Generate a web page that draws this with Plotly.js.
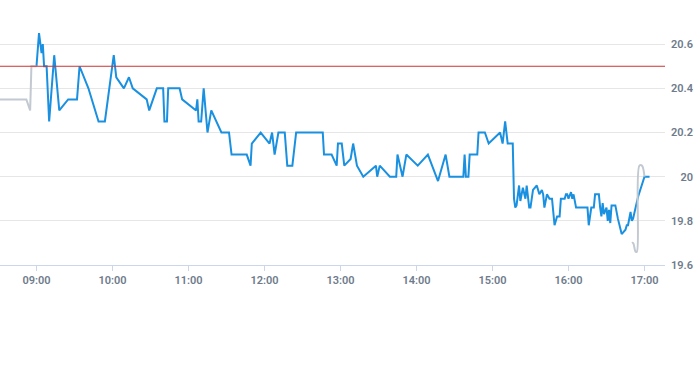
<!DOCTYPE html>
<html>
<head>
<meta charset="utf-8">
<script src="https://cdn.plot.ly/plotly-3.0.1.min.js"></script>
<style>
  html, body { margin: 0; padding: 0; background: #fff; }
  #chart { width: 693px; height: 365px; }
</style>
</head>
<body>
<div id="chart"></div>
<script>
const DAY = "2024-01-02 ";

const priceTimes = ["09:00","09:02","09:04","09:05","09:06","09:08","09:10","09:14","09:18","09:25","09:32","09:34","09:41","09:49","09:54",
  "10:01","10:03","10:09","10:13","10:16","10:27","10:29","10:35","10:40","10:41","10:43","10:44","10:53","10:55",
  "11:06","11:07","11:08","11:10","11:12","11:15","11:18","11:26","11:32","11:34","11:46","11:49","11:50","11:57",
  "12:04","12:06","12:08","12:11","12:16","12:18","12:22","12:25","12:46","12:47","12:53","12:57","12:58",
  "13:01","13:03","13:08","13:10","13:13","13:18","13:28","13:29","13:31","13:39","13:44","13:45","13:49","13:52",
  "14:01","14:09","14:17","14:23","14:26","14:37","14:38","14:39","14:41","14:42","14:48","14:49","14:54","14:57",
  "15:06","15:08","15:10","15:12","15:16","15:17","15:18","15:19","15:21","15:22","15:24","15:26","15:27","15:29","15:30",
  "15:32","15:35","15:37","15:39","15:40","15:41","15:43","15:45","15:47","15:49","15:51","15:53","15:54","15:57","15:58","15:59",
  "16:00","16:02","16:03","16:04","16:06","16:15","16:16","16:18","16:20","16:21","16:24","16:25","16:26","16:27","16:28",
  "16:30","16:31","16:32","16:33","16:34","16:37","16:39","16:42","16:45","16:46","16:47","16:49","16:50","16:51","16:53","16:55",
  "17:00","17:04"];
const priceValues = [20.50,20.65,20.56,20.60,20.50,20.50,20.25,20.55,20.30,20.35,20.35,20.50,20.40,20.25,20.25,
  20.55,20.45,20.40,20.45,20.40,20.35,20.30,20.40,20.40,20.25,20.25,20.40,20.40,20.35,
  20.30,20.35,20.25,20.25,20.40,20.20,20.30,20.20,20.20,20.10,20.10,20.05,20.15,20.20,
  20.15,20.20,20.10,20.20,20.20,20.05,20.05,20.20,20.20,20.10,20.10,20.05,20.15,
  20.15,20.05,20.08,20.15,20.05,20.00,20.05,20.00,20.05,20.00,20.00,20.10,20.00,20.10,
  20.05,20.10,19.98,20.10,20.00,20.00,20.10,20.00,20.00,20.10,20.10,20.20,20.20,20.15,
  20.20,20.15,20.25,20.15,20.15,19.90,19.86,19.87,19.96,19.89,19.95,19.90,19.96,19.86,19.86,
  19.94,19.96,19.92,19.94,19.92,19.86,19.92,19.90,19.90,19.78,19.82,19.82,19.90,19.90,19.92,19.92,
  19.90,19.93,19.90,19.92,19.86,19.86,19.78,19.86,19.86,19.92,19.92,19.86,19.82,19.88,19.83,
  19.86,19.80,19.85,19.79,19.87,19.87,19.81,19.74,19.76,19.78,19.78,19.84,19.80,19.81,19.86,19.91,
  20.00,20.00];

const preTimes = ["08:31","08:52","08:55","08:56","09:00"];
const preValues = [20.35,20.35,20.30,20.50,20.50];

const postTimes = ["16:50","16:51","16:53","16:54","16:56","16:58","17:00"];
const postValues = [19.70,19.70,19.66,19.66,20.05,20.05,20.00];

const refLevel = 20.5;
const yTicks = [19.6, 19.8, 20, 20.2, 20.4, 20.6];
const yTickText = ["19.6", "19.8", "20", "20.2", "20.4", "20.6"];

const toDate = arr => arr.map(t => DAY + t);

const traces = [
  {x: toDate(priceTimes), y: priceValues, type: "scatter", mode: "lines",
   line: {color: "#1a90e0", width: 2}, hoverinfo: "skip"},
  {x: toDate(preTimes), y: preValues, type: "scatter", mode: "lines",
   line: {color: "#c2c9d1", width: 2}, hoverinfo: "skip"},
  {x: toDate(postTimes), y: postValues, type: "scatter", mode: "lines",
   line: {color: "#c2c9d1", width: 2, shape: "spline", smoothing: 1}, hoverinfo: "skip"},
  {x: [DAY + "12:00"], y: [20], yaxis: "y2", type: "scatter", mode: "markers",
   marker: {opacity: 0}, hoverinfo: "skip"}
];

const xDomEnd = 665 / 693;
const layout = {
  width: 693, height: 365,
  margin: {l: 0, r: 0, t: 0, b: 100, pad: 0},
  paper_bgcolor: "#ffffff", plot_bgcolor: "#ffffff",
  showlegend: false,
  font: {family: "Roboto, 'Liberation Sans', sans-serif", size: 11, color: "#6e7b8b"},
  xaxis: {
    type: "date", domain: [0, xDomEnd],
    range: [DAY + "08:31:12", DAY + "17:16:12"],
    tick0: DAY + "09:00", dtick: 3600000, tickformat: "%H:%M",
    showgrid: false, zeroline: false,
    showline: true, linecolor: "#ccd6eb", linewidth: 1,
    ticks: "outside", ticklen: 5, tickcolor: "#ccd6eb", tickwidth: 1,
    tickfont: {size: 11, color: "#6e7b8b", weight: 600}
  },
  yaxis: {
    range: [19.6, 20.8], side: "right",
    tickmode: "array", tickvals: yTicks, ticktext: yTickText,
    showticklabels: false, showgrid: true, gridcolor: "#e6e6e6", gridwidth: 1,
    zeroline: false, showline: false, ticks: ""
  },
  yaxis2: {
    range: [19.6, 20.8], overlaying: "y", anchor: "free", position: 1, side: "left",
    tickmode: "array", tickvals: yTicks, ticktext: yTickText,
    showgrid: false, zeroline: false, showline: false, ticks: "",
    automargin: false,
    tickfont: {size: 11, color: "#6e7b8b", weight: 600}
  },
  shapes: [{
    type: "line", xref: "paper", yref: "y", x0: 0, x1: xDomEnd, y0: refLevel, y1: refLevel,
    line: {color: "#cc3333", width: 1}
  }]
};

Plotly.newPlot("chart", traces, layout, {staticPlot: true, displayModeBar: false});
</script>
</body>
</html>
